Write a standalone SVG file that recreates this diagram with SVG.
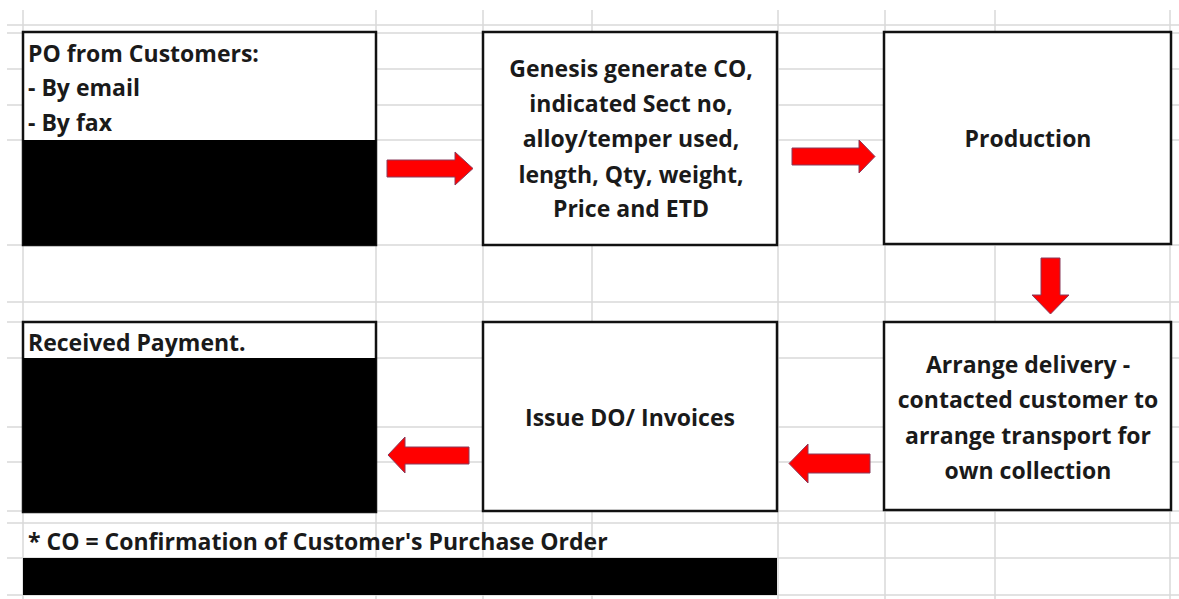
<svg xmlns="http://www.w3.org/2000/svg" width="1179" height="599" viewBox="0 0 1179 599">
<style>
.grid line{stroke:#d9d9d9;stroke-width:1.5}
.box{fill:#fff;stroke:#111;stroke-width:2.5}
.blk{fill:#000}
.t{font-family:"Open Sans","Liberation Sans",sans-serif;font-weight:700;font-size:23px;fill:#1a1a1a}
.c{text-anchor:middle}
.arr{fill:#f00;stroke:#8a3a5a;stroke-width:1}
</style>
<rect width="1179" height="599" fill="#fff"/>
<g class="grid" id="grid">
<line x1="23" y1="10" x2="23" y2="599"/>
<line x1="376" y1="10" x2="376" y2="599"/>
<line x1="483" y1="10" x2="483" y2="599"/>
<line x1="592" y1="10" x2="592" y2="599"/>
<line x1="778" y1="10" x2="778" y2="599"/>
<line x1="885" y1="10" x2="885" y2="599"/>
<line x1="995" y1="10" x2="995" y2="599"/>
<line x1="1170" y1="10" x2="1170" y2="599"/>
<line x1="7" y1="25" x2="1179" y2="25"/>
<line x1="7" y1="33" x2="1179" y2="33"/>
<line x1="7" y1="69" x2="1179" y2="69"/>
<line x1="7" y1="105" x2="1179" y2="105"/>
<line x1="7" y1="140" x2="1179" y2="140"/>
<line x1="7" y1="245" x2="1179" y2="245"/>
<line x1="7" y1="302" x2="1179" y2="302"/>
<line x1="7" y1="322" x2="1179" y2="322"/>
<line x1="7" y1="358" x2="1179" y2="358"/>
<line x1="7" y1="427" x2="1179" y2="427"/>
<line x1="7" y1="462" x2="1179" y2="462"/>
<line x1="7" y1="511" x2="1179" y2="511"/>
<line x1="7" y1="523" x2="1179" y2="523"/>
<line x1="7" y1="558" x2="1179" y2="558"/>
<line x1="7" y1="595" x2="1179" y2="595"/>
</g>
<g id="po">
<rect class="box" x="23" y="32" width="353" height="213"/>
<rect class="blk" x="23" y="140" width="353" height="105"/>
<text class="t" x="28" y="62">PO from Customers:</text>
<text class="t" x="28" y="96">- By email</text>
<text class="t" x="28" y="131">- By fax</text>
</g>
<g id="genesis">
<rect class="box" x="483" y="32" width="294" height="213"/>
<text class="t c" x="631" y="77">Genesis generate CO,</text>
<text class="t c" x="631" y="112">indicated Sect no,</text>
<text class="t c" x="631" y="147">alloy/temper used,</text>
<text class="t c" x="631" y="183">length, Qty, weight,</text>
<text class="t c" x="631" y="217">Price and ETD</text>
</g>
<g id="production">
<rect class="box" x="884" y="32" width="287" height="212"/>
<text class="t c" x="1028" y="147">Production</text>
</g>
<g id="arrange">
<rect class="box" x="884" y="322" width="287" height="188"/>
<text class="t c" x="1028" y="373">Arrange delivery -</text>
<text class="t c" x="1028" y="408">contacted customer to</text>
<text class="t c" x="1028" y="444">arrange transport for</text>
<text class="t c" x="1028" y="479">own collection</text>
</g>
<g id="issue">
<rect class="box" x="483" y="322" width="294" height="189"/>
<text class="t c" x="630" y="426">Issue DO/ Invoices</text>
</g>
<g id="payment">
<rect class="box" x="23" y="322" width="353" height="190"/>
<rect class="blk" x="23" y="358" width="353" height="154"/>
<text class="t" x="28" y="351">Received Payment.</text>
</g>
<g id="footer">
<text class="t" x="28" y="550">* CO = Confirmation of Customer's Purchase Order</text>
<rect class="blk" x="23" y="558" width="754" height="37"/>
</g>
<g id="connectors">
<path class="arr" d="M387 160H455V152L473 168.5L455 185V177H387Z"/>
<path class="arr" d="M792 148H859V140L875 156.5L859 173V165H792Z"/>
<path class="arr" d="M1041 258V295H1032L1050.5 314L1069 295H1060V258Z"/>
<path class="arr" d="M870 454H808V444L789 463.5L808 483V473H870Z"/>
<path class="arr" d="M469 447H405V437L388 455L405 473V464H469Z"/>
</g>
</svg>
